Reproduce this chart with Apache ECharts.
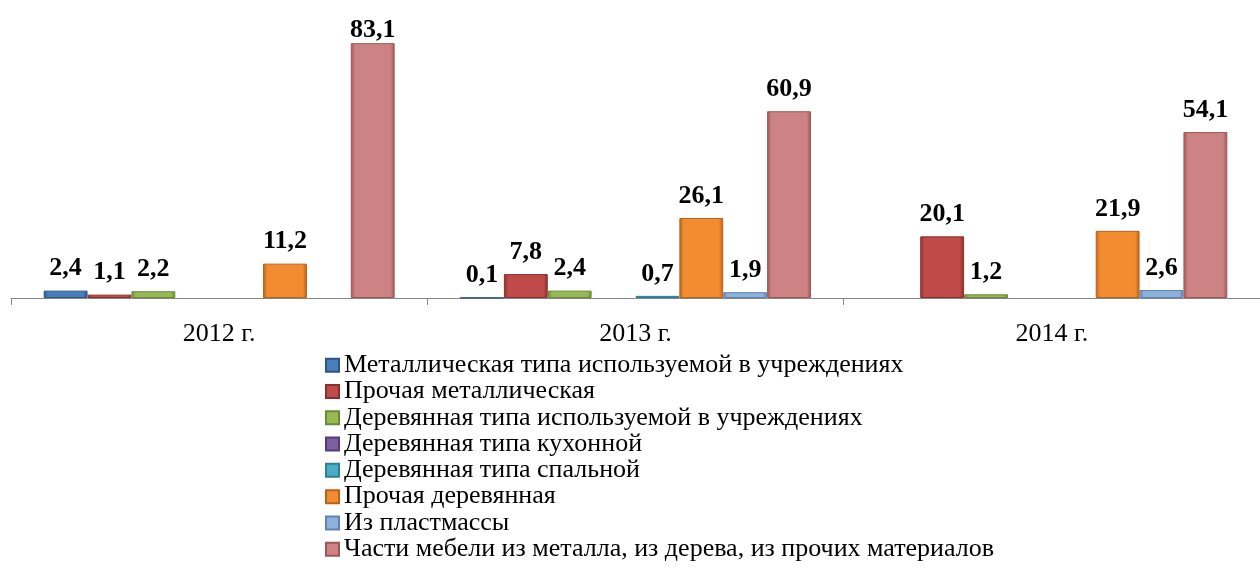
<!DOCTYPE html>
<html>
<head>
<meta charset="utf-8">
<script src="https://cdn.jsdelivr.net/npm/echarts@6/dist/echarts.min.js"></script>
<style>
html,body{margin:0;padding:0;background:#fff;}
#chart{width:1260px;height:584px;}
</style>
</head>
<body>
<div id="chart"></div>
<script>
var categories = ['2012 г.', '2013 г.', '2014 г.'];
var seriesNames = [
  'Металлическая типа используемой в учреждениях',
  'Прочая металлическая',
  'Деревянная типа используемой в учреждениях',
  'Деревянная типа кухонной',
  'Деревянная типа спальной',
  'Прочая деревянная',
  'Из пластмассы',
  'Части мебели из металла, из дерева, из прочих материалов'
];
var metalOffice = [2.4, 0.1, null];
var metalOther = [1.1, 7.8, 20.1];
var woodOffice = [2.2, 2.4, 1.2];
var woodKitchen = [null, null, null];
var woodBedroom = [null, 0.7, null];
var woodOther = [11.2, 26.1, 21.9];
var plastic = [null, 1.9, 2.6];
var parts = [83.1, 60.9, 54.1];

var seriesData = [metalOffice, metalOther, woodOffice, woodKitchen, woodBedroom, woodOther, plastic, parts];
var baseColors = ['#4A7EBB', '#BE4B48', '#98B954', '#7D60A0', '#4BACC6', '#F28C30', '#8EB1DC', '#CD8284'];
var edgeColors = ['#2C5487', '#8C2F2C', '#6A8A34', '#553C78', '#2C7F96', '#B8621A', '#5F84B4', '#9E5759'];

function grad(i) {
  return new echarts.graphic.LinearGradient(0, 0, 1, 0, [
    {offset: 0, color: edgeColors[i]},
    {offset: 0.1, color: baseColors[i]},
    {offset: 0.9, color: baseColors[i]},
    {offset: 1, color: edgeColors[i]}
  ]);
}

var chart = echarts.init(document.getElementById('chart'), null, {renderer: 'canvas'});

var series = seriesNames.map(function (name, i) {
  return {
    name: name,
    type: 'bar',
    data: seriesData[i],
    barGap: '0%',
    barCategoryGap: '15.7%',
    itemStyle: {color: grad(i), borderColor: edgeColors[i], borderWidth: 1},
    label: {
      show: true,
      position: 'top',
      distance: 9,
      fontFamily: 'Liberation Serif',
      fontWeight: 'bold',
      fontSize: 26,
      color: '#000',
      formatter: function (p) { return p.value == null ? '' : p.value.toFixed(1).replace('.', ','); }
    },
    labelLayout: function (params) {
      if (params.labelRect.y < 17) { return {dy: 17 - params.labelRect.y}; }
      return {};
    }
  };
});

chart.setOption({
  animation: false,
  backgroundColor: '#fff',
  grid: {left: 11, top: 22, width: 1258, height: 276, containLabel: false},
  xAxis: {
    type: 'category',
    data: categories,
    axisLine: {lineStyle: {color: '#868686', width: 1}},
    axisTick: {show: true, length: 7, lineStyle: {color: '#868686'}},
    axisLabel: {fontFamily: 'Liberation Serif', fontSize: 26, color: '#000', margin: 23}
  },
  yAxis: {
    type: 'value', min: 0, max: 90, show: false,
    splitLine: {show: false}
  },
  legend: {
    orient: 'vertical',
    left: 320,
    top: 347,
    itemWidth: 13,
    itemHeight: 13,
    itemGap: 0,
    icon: 'rect',
    data: seriesNames,
    textStyle: {fontFamily: 'Liberation Serif', fontSize: 26, color: '#000', lineHeight: 26.3}
  },
  series: series
});
</script>
</body>
</html>
